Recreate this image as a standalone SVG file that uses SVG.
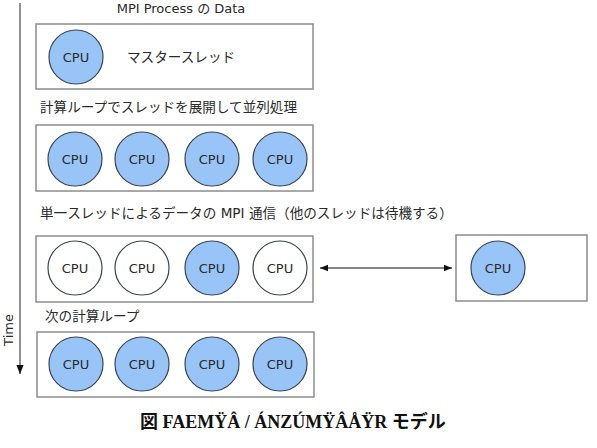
<svg xmlns="http://www.w3.org/2000/svg" width="597" height="448" viewBox="0 0 597 448">
<defs>
<marker id="ah" viewBox="0 0 10 10" refX="10" refY="5" markerWidth="8" markerHeight="8" markerUnits="userSpaceOnUse" orient="auto-start-reverse"><path d="M0,1 L10,5 L0,9 z" fill="#111"/></marker>
<marker id="ta" viewBox="0 0 10 10" refX="10" refY="5" markerWidth="9" markerHeight="9" markerUnits="userSpaceOnUse" orient="auto"><path d="M0,1 L10,5 L0,9 z" fill="#111"/></marker>
</defs>
<style>
.box{fill:#fff;stroke:#8c8c8c;stroke-width:1.5}
.cpu{fill:#99c4f7;stroke:#3d4650;stroke-width:1.2}
.idle{fill:#fff;stroke:#3d4650;stroke-width:1.2}
.t{font-family:"DejaVu Sans","Noto Sans CJK JP",sans-serif;font-size:13px;fill:#2a2a2a}
.j{font-family:"DejaVu Sans","Noto Sans CJK JP",sans-serif;font-size:13.6px;fill:#2a2a2a}
.m{font-family:"DejaVu Sans","Noto Sans CJK JP",sans-serif;font-size:13px;fill:#2a2a2a}
.c{text-anchor:middle;dominant-baseline:central}
.cap{font-family:"Liberation Serif","Noto Sans CJK JP",serif;font-size:18px;font-weight:bold;fill:#111}
</style>
<g id="connectors">
<line x1="20" y1="3" x2="20" y2="374" stroke="#555" stroke-width="1.3" marker-end="url(#ta)"/>
<line x1="320" y1="268" x2="452" y2="268" stroke="#111" stroke-width="1" marker-start="url(#ah)" marker-end="url(#ah)"/>
</g>
<text class="t c" transform="translate(8,330) rotate(-90)">Time</text>
<text class="m c" x="181" y="8">MPI Process の Data</text>
<g id="step1">
<rect class="box" x="36" y="24" width="277" height="65"/>
<circle class="cpu" cx="76" cy="57" r="27"/><text class="t c" x="76" y="57">CPU</text>
<text class="j" x="127" y="62">マスタースレッド</text>
</g>
<text class="j" x="40" y="112">計算ループでスレッドを展開して並列処理</text>
<g id="step2">
<rect class="box" x="36" y="125" width="277" height="66"/>
<circle class="cpu" cx="75" cy="159" r="27"/><text class="t c" x="75" y="159">CPU</text>
<circle class="cpu" cx="142" cy="159" r="27"/><text class="t c" x="142" y="159">CPU</text>
<circle class="cpu" cx="212" cy="159" r="27"/><text class="t c" x="212" y="159">CPU</text>
<circle class="cpu" cx="280" cy="159" r="27"/><text class="t c" x="280" y="159">CPU</text>
</g>
<text class="j" x="40" y="218">単一スレッドによるデータの MPI 通信（他のスレッドは待機する）</text>
<g id="step3">
<rect class="box" x="36" y="236" width="277" height="66"/>
<circle class="idle" cx="75" cy="268" r="27"/><text class="t c" x="75" y="268">CPU</text>
<circle class="idle" cx="142" cy="268" r="27"/><text class="t c" x="142" y="268">CPU</text>
<circle class="cpu" cx="212" cy="268" r="27"/><text class="t c" x="212" y="268">CPU</text>
<circle class="idle" cx="280" cy="268" r="27"/><text class="t c" x="280" y="268">CPU</text>
</g>
<g id="remote">
<rect class="box" x="456" y="235" width="131" height="66"/>
<circle class="cpu" cx="498" cy="268" r="27"/><text class="t c" x="498" y="268">CPU</text>
</g>
<text class="j" x="45" y="321">次の計算ループ</text>
<g id="step4">
<rect class="box" x="37" y="332" width="277" height="65"/>
<circle class="cpu" cx="76" cy="364" r="27"/><text class="t c" x="76" y="364">CPU</text>
<circle class="cpu" cx="142" cy="364" r="27"/><text class="t c" x="142" y="364">CPU</text>
<circle class="cpu" cx="212" cy="364" r="27"/><text class="t c" x="212" y="364">CPU</text>
<circle class="cpu" cx="280" cy="364" r="27"/><text class="t c" x="280" y="364">CPU</text>
</g>
<text class="cap" x="140" y="428">図 FAEMŸÂ / ÁNZÚMŸÂÅŸR モデル</text>
</svg>
